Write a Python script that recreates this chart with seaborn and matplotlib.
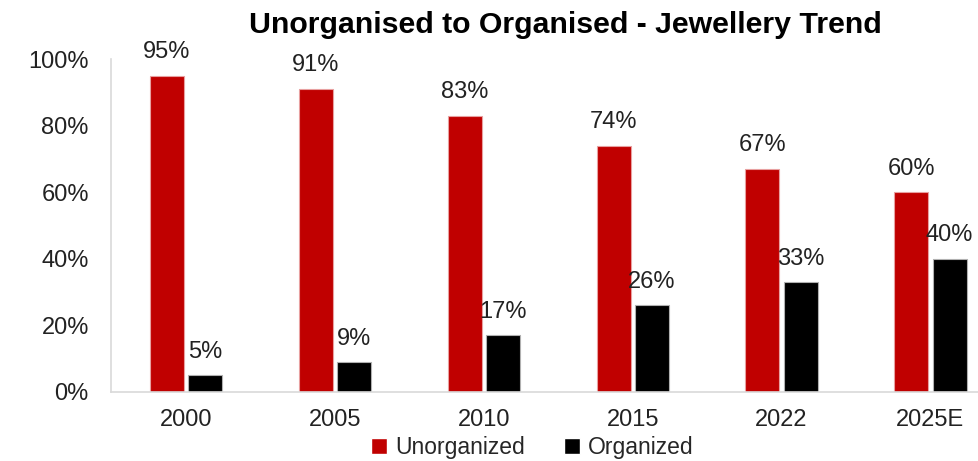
import matplotlib
matplotlib.use("Agg")
import matplotlib.pyplot as plt
import seaborn as sns
import pandas as pd
from matplotlib.ticker import PercentFormatter

years = ["2000", "2005", "2010", "2015", "2022", "2025E"]
unorganized = [95, 91, 83, 74, 67, 60]
organized = [5, 9, 17, 26, 33, 40]
series_names = ["Unorganized", "Organized"]
colors = ["#C00000", "#000000"]

df = pd.DataFrame({
    "year": years * 2,
    "value": [v / 100 for v in unorganized] + [v / 100 for v in organized],
    "series": [series_names[0]] * len(years) + [series_names[1]] * len(years),
})

sns.set_theme(style="white")
plt.rcParams['font.family'] = ['Liberation Sans', 'DejaVu Sans']

fig = plt.figure(figsize=(9.79, 4.61), dpi=100)
ax = fig.add_axes([0.1134, 0.1497, 0.8866, 0.7223])

sns.barplot(data=df, x="year", y="value", hue="series", palette=colors,
            width=0.513, gap=0.11, ax=ax, errorbar=None, saturation=1)

edge_cols = ["#e8a0a0", "#b0b0b0"]
for container, ec in zip(ax.containers, edge_cols):
    for p in container.patches:
        p.set_edgecolor(ec)
        p.set_linewidth(0.8)
    ax.bar_label(container, labels=[f"{v*100:.0f}%" for v in container.datavalues],
                 padding=9, fontsize=17, color="#222222")

ax.set_ylim(0, 1.0)
ax.set_xlim(-0.504, 5.326)
ax.yaxis.set_major_formatter(PercentFormatter(1.0, decimals=0))
ax.set_yticks([0, 0.2, 0.4, 0.6, 0.8, 1.0])
ax.tick_params(axis='both', labelsize=17, colors="#222222", length=0)
ax.tick_params(axis='x', pad=12)
ax.tick_params(axis='y', pad=16)
ax.set_xlabel("")
ax.set_ylabel("")
for s in ["top", "right"]:
    ax.spines[s].set_visible(False)
for s in ["left", "bottom"]:
    ax.spines[s].set_color("#d9d9d9")
    ax.spines[s].set_linewidth(1.2)

fig.text(0.577, 0.946, "Unorganised to Organised - Jewellery Trend",
         ha="center", va="center", fontsize=21.8, fontweight="bold", color="black")

leg = ax.legend(loc="center", bbox_to_anchor=(0.485, -0.168), ncol=2,
                frameon=False, fontsize=16.5, handlelength=0.7, handleheight=0.7,
                handletextpad=0.35, columnspacing=1.7, borderaxespad=0,
                borderpad=0.0)

fig.savefig("out.png", dpi=100)
